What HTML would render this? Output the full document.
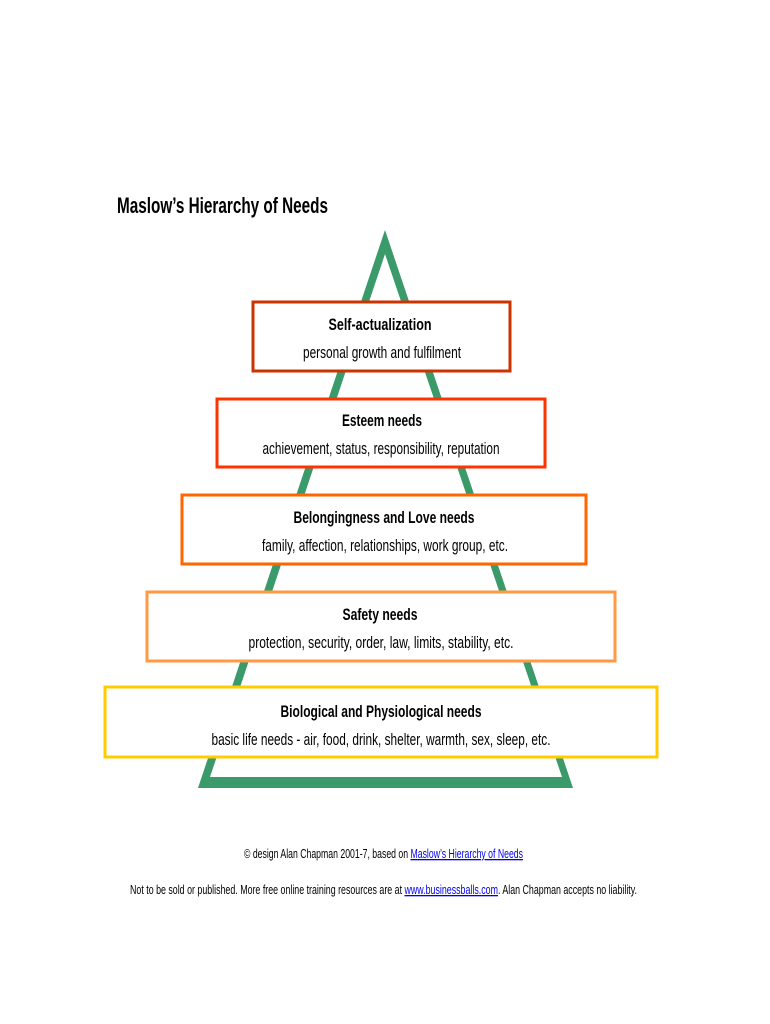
<!DOCTYPE html>
<html><head><meta charset="utf-8"><style>
html,body{margin:0;padding:0;background:#fff;}
svg{display:block;font-family:"Liberation Sans Narrow","Liberation Sans",sans-serif;}
</style></head><body>
<svg width="770" height="1024" viewBox="0 0 770 1024">
<rect width="770" height="1024" fill="#fff"/>
<text x="117" y="213" font-size="22" font-weight="bold" fill="#000" textLength="211" lengthAdjust="spacingAndGlyphs">Maslow’s Hierarchy of Needs</text>
<path d="M385 230 L573 788 L198 788 Z M385 254 L210 777 L562 777 Z" fill="#3a9a6a" fill-rule="evenodd"/>
<g fill="#fff" stroke-width="3">
<rect x="253" y="302" width="257" height="69" stroke="#cc3300"/>
<rect x="217" y="399" width="328" height="68" stroke="#ff3300"/>
<rect x="182" y="495" width="404" height="69" stroke="#ff6600"/>
<rect x="147" y="592" width="468" height="69" stroke="#ff9944"/>
<rect x="105" y="687" width="552" height="70" stroke="#ffcc00"/>
</g>
<g fill="#000" text-anchor="middle" font-size="17">
<text x="380" y="330" font-weight="bold" textLength="103" lengthAdjust="spacingAndGlyphs">Self-actualization</text>
<text x="382" y="358" textLength="158" lengthAdjust="spacingAndGlyphs">personal growth and fulfilment</text>
<text x="382" y="426" font-weight="bold" textLength="80" lengthAdjust="spacingAndGlyphs">Esteem needs</text>
<text x="381" y="454" textLength="237" lengthAdjust="spacingAndGlyphs">achievement, status, responsibility, reputation</text>
<text x="384" y="523" font-weight="bold" textLength="181" lengthAdjust="spacingAndGlyphs">Belongingness and Love needs</text>
<text x="385" y="551" textLength="246" lengthAdjust="spacingAndGlyphs">family, affection, relationships, work group, etc.</text>
<text x="380" y="620" font-weight="bold" textLength="75" lengthAdjust="spacingAndGlyphs">Safety needs</text>
<text x="381" y="648" textLength="265" lengthAdjust="spacingAndGlyphs">protection, security, order, law, limits, stability, etc.</text>
<text x="381" y="717" font-weight="bold" textLength="201" lengthAdjust="spacingAndGlyphs">Biological and Physiological needs</text>
<text x="381" y="745" textLength="339" lengthAdjust="spacingAndGlyphs">basic life needs - air, food, drink, shelter, warmth, sex, sleep, etc.</text>
</g>
<g font-size="13" fill="#000">
<text x="244" y="858" textLength="279" lengthAdjust="spacingAndGlyphs">© design Alan Chapman 2001-7, based on <tspan fill="#0000ee" text-decoration="underline">Maslow’s Hierarchy of Needs</tspan></text>
<text x="130" y="894" textLength="507" lengthAdjust="spacingAndGlyphs">Not to be sold or published.  More free online training resources are at <tspan fill="#0000ee" text-decoration="underline">www.businessballs.com</tspan>.  Alan Chapman accepts no liability.</text>
</g>
</svg>
</body></html>
